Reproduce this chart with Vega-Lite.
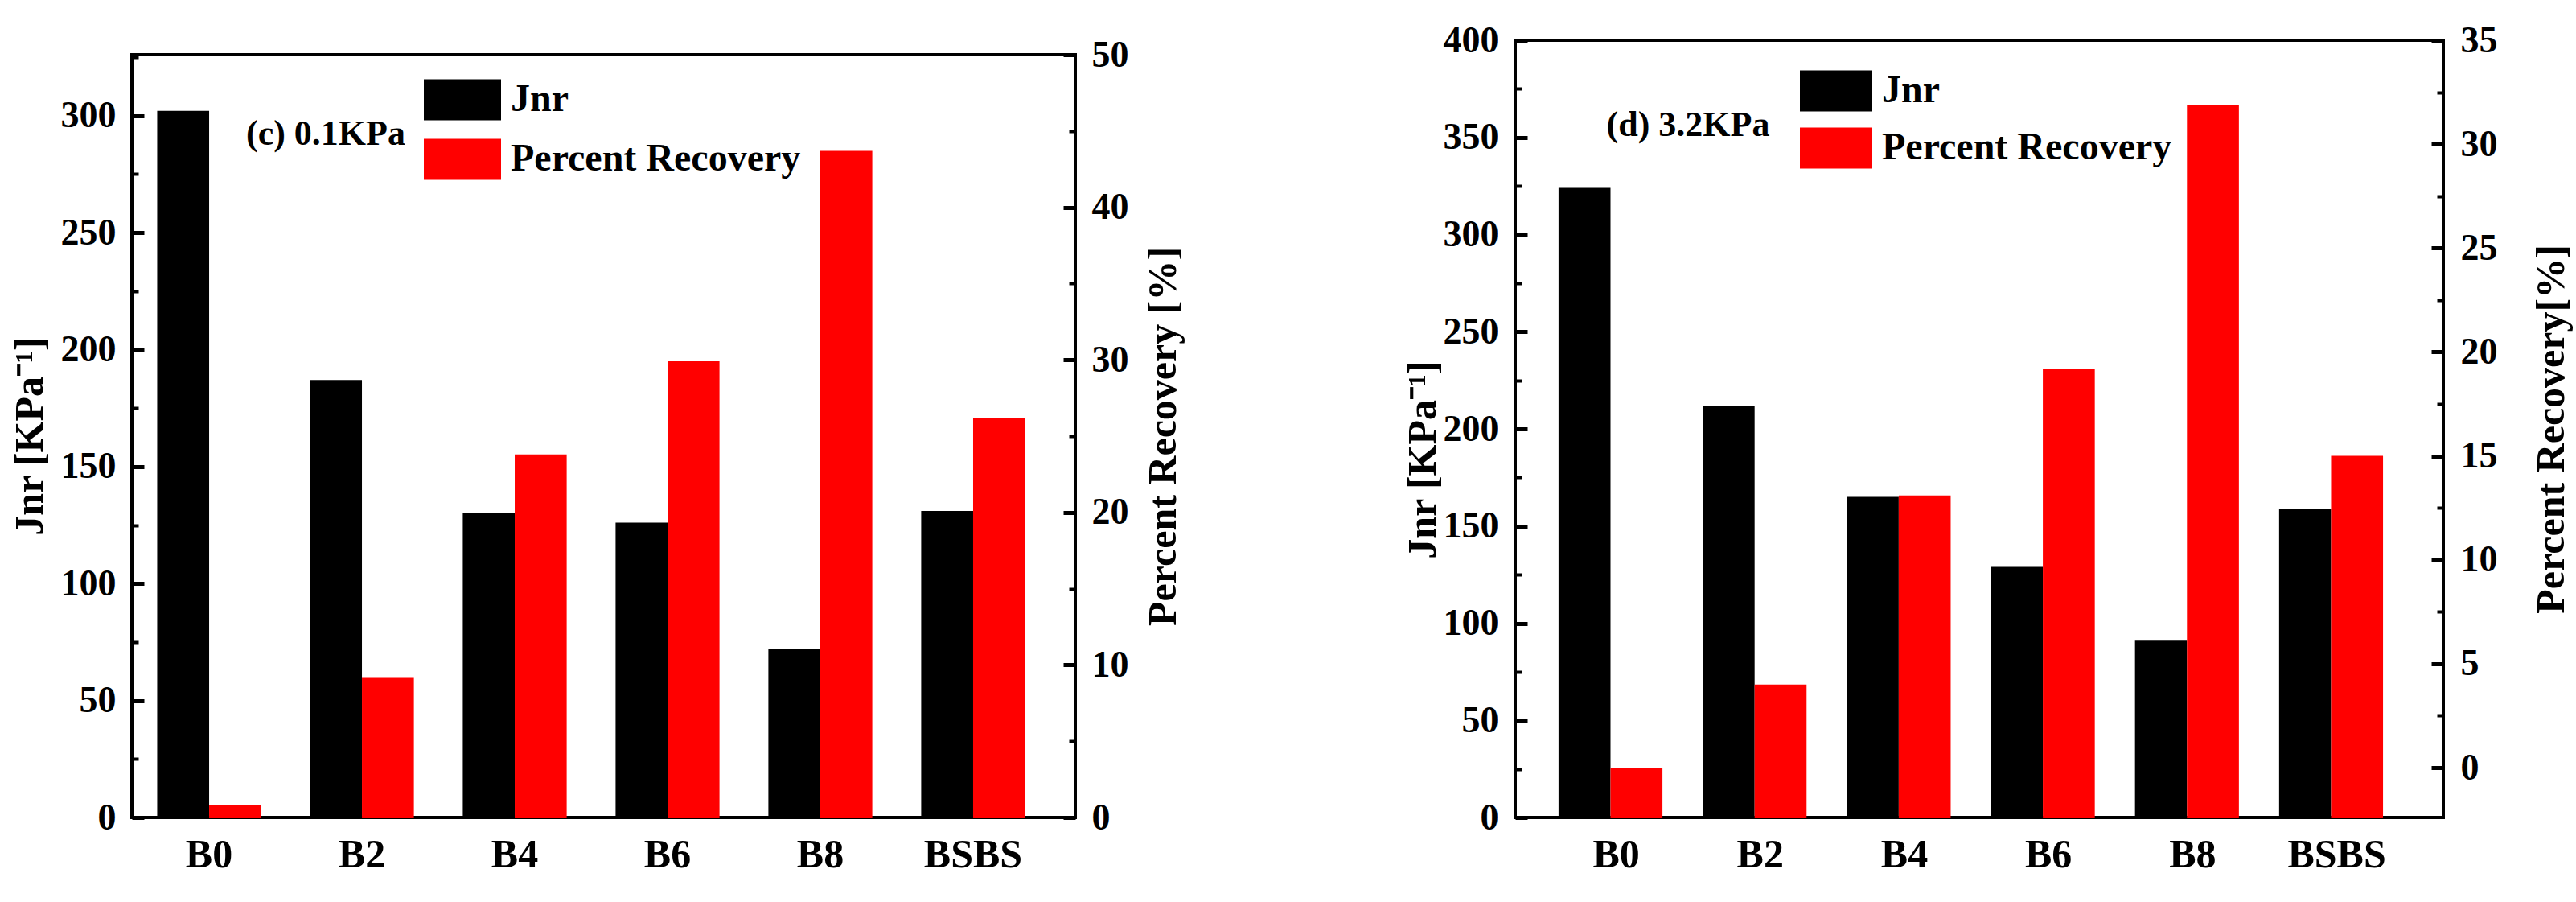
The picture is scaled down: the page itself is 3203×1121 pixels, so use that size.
{
  "$schema": "https://vega.github.io/schema/vega-lite/v6.json",
  "background": "white",
  "padding": {"left": 10, "top": 25, "right": 0, "bottom": 0},
  "spacing": 269,
  "config": {
    "font": "Liberation Serif",
    "view": {"stroke": "black", "strokeWidth": 4},
    "axis": {
      "labelFont": "Liberation Serif",
      "labelFontWeight": "bold",
      "labelFontSize": 46,
      "labelColor": "black",
      "titleFont": "Liberation Serif",
      "titleFontWeight": "bold",
      "titleFontSize": 50,
      "titleColor": "black",
      "grid": false,
      "domain": false,
      "tickColor": "black",
      "tickWidth": 5,
      "tickSize": -15
    },
    "legend": {
      "labelFont": "Liberation Serif",
      "labelFontWeight": "bold",
      "labelFontSize": 48,
      "labelColor": "black",
      "labelLimit": 0,
      "padding": 0,
      "symbolStrokeWidth": 0,
      "symbolOpacity": 1,
      "labelOffset": 12
    },
    "text": {"font": "Liberation Serif", "fontWeight": "bold", "color": "black"}
  },
  "datasets": {
    "c": [
      {"sample": "B0", "series": "Jnr", "value": 302},
      {"sample": "B2", "series": "Jnr", "value": 187},
      {"sample": "B4", "series": "Jnr", "value": 130},
      {"sample": "B6", "series": "Jnr", "value": 126},
      {"sample": "B8", "series": "Jnr", "value": 72},
      {"sample": "BSBS", "series": "Jnr", "value": 131},
      {"sample": "B0", "series": "Percent Recovery", "value": 0.8},
      {"sample": "B2", "series": "Percent Recovery", "value": 9.2},
      {"sample": "B4", "series": "Percent Recovery", "value": 23.8},
      {"sample": "B6", "series": "Percent Recovery", "value": 29.9},
      {"sample": "B8", "series": "Percent Recovery", "value": 43.7},
      {"sample": "BSBS", "series": "Percent Recovery", "value": 26.2}
    ],
    "d": [
      {"sample": "B0", "series": "Jnr", "value": 324},
      {"sample": "B2", "series": "Jnr", "value": 212},
      {"sample": "B4", "series": "Jnr", "value": 165},
      {"sample": "B6", "series": "Jnr", "value": 129},
      {"sample": "B8", "series": "Jnr", "value": 91},
      {"sample": "BSBS", "series": "Jnr", "value": 159},
      {"sample": "B0", "series": "Percent Recovery", "value": 0},
      {"sample": "B2", "series": "Percent Recovery", "value": 4.0},
      {"sample": "B4", "series": "Percent Recovery", "value": 13.1},
      {"sample": "B6", "series": "Percent Recovery", "value": 19.2},
      {"sample": "B8", "series": "Percent Recovery", "value": 31.9},
      {"sample": "BSBS", "series": "Percent Recovery", "value": 15.0}
    ],
    "one": [{"label": ""}],
    "none": []
  },
  "resolve": {"scale": {"color": "independent"}, "legend": {"color": "independent"}},
  "hconcat": [
    {
      "spacing": -8,
      "vconcat": [
        {
          "width": 1,
          "height": 1,
          "view": {"stroke": null},
          "data": {"name": "none"},
          "mark": "text",
          "encoding": {}
        },
        {
          "width": 1173,
          "height": 948,
          "encoding": {
            "x": {
              "field": "sample",
              "type": "nominal",
              "sort": null,
              "scale": {"paddingInner": 0.32, "paddingOuter": 0.247, "align": 0.335},
              "axis": {"title": null, "ticks": false, "labelAngle": 0, "labelPadding": 21, "labelFontSize": 50}
            }
          },
          "layer": [
            {
              "layer": [
                {
                  "data": {"name": "c"},
                  "transform": [{"filter": "datum.series === 'Jnr'"}],
                  "mark": "bar",
                  "encoding": {
                    "xOffset": {"field": "series", "scale": {"domain": ["Jnr", "Percent Recovery"]}},
                    "color": {
                      "field": "series",
                      "scale": {"domain": ["Jnr", "Percent Recovery"], "range": ["#000000", "#ff0000"]},
                      "legend": {"title": null, "orient": "none", "legendX": 363, "legendY": 26, "symbolType": "M-1,-0.53H1V0.53H-1Z", "symbolSize": 9216, "rowPadding": -11}
                    },
                    "y": {
                      "field": "value",
                      "type": "quantitative",
                      "scale": {"domain": [0, 326], "nice": false},
                      "axis": {
                        "orient": "left",
                        "title": "Jnr [KPa⁻¹]",
                        "values": [0, 50, 100, 150, 200, 250, 300],
                        "labelPadding": 35,
                        "titlePadding": 13
                      }
                    }
                  }
                },
                {
                  "data": {"name": "one"},
                  "mark": {"type": "text", "align": "left", "baseline": "middle", "fontSize": 44, "dx": 46},
                  "encoding": {
                    "x": {"datum": "B0"},
                    "y": {
                      "datum": 292,
                      "axis": {"orient": "left", "title": null, "labels": false, "values": [25, 75, 125, 175, 225, 275, 325], "tickSize": -8, "tickWidth": 4}
                    },
                    "text": {"value": "(c) 0.1KPa"}
                  }
                }
              ],
              "resolve": {"axis": {"y": "independent"}}
            },
            {
              "layer": [
                {
                  "data": {"name": "c"},
                  "transform": [{"filter": "datum.series === 'Percent Recovery'"}],
                  "mark": "bar",
                  "encoding": {
                    "xOffset": {"field": "series", "scale": {"domain": ["Jnr", "Percent Recovery"]}},
                    "color": {"field": "series"},
                    "y": {
                      "field": "value",
                      "type": "quantitative",
                      "scale": {"domain": [0, 50], "nice": false},
                      "axis": {
                        "orient": "right",
                        "title": "Percent Recovery [%]",
                        "titleAngle": 270,
                        "titleBaseline": "top",
                        "values": [0, 10, 20, 30, 40, 50],
                        "labelPadding": 35,
                        "titlePadding": 18
                      }
                    }
                  }
                },
                {
                  "data": {"name": "one"},
                  "mark": {"type": "text"},
                  "encoding": {
                    "x": {"datum": "B0"},
                    "y": {
                      "datum": 0,
                      "axis": {"orient": "right", "title": null, "labels": false, "values": [5, 15, 25, 35, 45], "tickSize": -8, "tickWidth": 4}
                    },
                    "text": {"field": "label"}
                  }
                }
              ],
              "resolve": {"axis": {"y": "independent"}}
            }
          ],
          "resolve": {"scale": {"y": "independent"}}
        }
      ]
    },
    {
      "width": 1154,
      "height": 966,
      "encoding": {
        "x": {
          "field": "sample",
          "type": "nominal",
          "sort": null,
          "scale": {"paddingInner": 0.2, "paddingOuter": 0.32, "align": 0.47},
          "axis": {"title": null, "ticks": false, "labelAngle": 0, "labelPadding": 21, "labelFontSize": 50}
        }
      },
      "layer": [
        {
          "layer": [
            {
              "data": {"name": "d"},
              "transform": [{"filter": "datum.series === 'Jnr'"}],
              "mark": "bar",
              "encoding": {
                "xOffset": {"field": "series", "scale": {"domain": ["Jnr", "Percent Recovery"]}},
                "color": {
                  "field": "series",
                  "scale": {"domain": ["Jnr", "Percent Recovery"], "range": ["#000000", "#ff0000"]},
                  "legend": {"title": null, "orient": "none", "legendX": 354, "legendY": 18, "symbolType": "M-1,-0.567H1V0.567H-1Z", "symbolSize": 8100, "rowPadding": -28}
                },
                "y": {
                  "field": "value",
                  "type": "quantitative",
                  "scale": {"domain": [0, 400], "nice": false},
                  "axis": {
                    "orient": "left",
                    "title": "Jnr [KPa⁻¹]",
                    "values": [0, 50, 100, 150, 200, 250, 300, 350, 400],
                    "labelPadding": 36,
                    "titlePadding": 0,
                    "titleY": 521
                  }
                }
              }
            },
            {
              "data": {"name": "one"},
              "mark": {"type": "text", "align": "left", "baseline": "middle", "fontSize": 44, "dx": -12},
              "encoding": {
                "x": {"datum": "B0"},
                "y": {
                  "datum": 356,
                  "axis": {"orient": "left", "title": null, "labels": false, "values": [25, 75, 125, 175, 225, 275, 325, 375], "tickSize": -8, "tickWidth": 4}
                },
                "text": {"value": "(d) 3.2KPa"}
              }
            }
          ],
          "resolve": {"axis": {"y": "independent"}}
        },
        {
          "layer": [
            {
              "data": {"name": "d"},
              "transform": [{"filter": "datum.series === 'Percent Recovery'"}],
              "mark": "bar",
              "encoding": {
                "xOffset": {"field": "series", "scale": {"domain": ["Jnr", "Percent Recovery"]}},
                "color": {"field": "series"},
                "y": {
                  "field": "value",
                  "type": "quantitative",
                  "scale": {"domain": [-2.4, 35], "nice": false, "zero": false},
                  "axis": {
                    "orient": "right",
                    "title": "Percent Recovery[%]",
                    "titleAngle": 270,
                    "titleBaseline": "top",
                    "values": [0, 5, 10, 15, 20, 25, 30, 35],
                    "labelPadding": 36,
                    "titlePadding": 42
                  }
                },
                "y2": {"datum": -2.4}
              }
            },
            {
              "data": {"name": "one"},
              "mark": {"type": "text"},
              "encoding": {
                "x": {"datum": "B0"},
                "y": {
                  "datum": 0,
                  "axis": {"orient": "right", "title": null, "labels": false, "values": [2.5, 7.5, 12.5, 17.5, 22.5, 27.5, 32.5], "tickSize": -8, "tickWidth": 4}
                },
                "text": {"field": "label"}
              }
            }
          ],
          "resolve": {"axis": {"y": "independent"}}
        }
      ],
      "resolve": {"scale": {"y": "independent"}}
    }
  ]
}
